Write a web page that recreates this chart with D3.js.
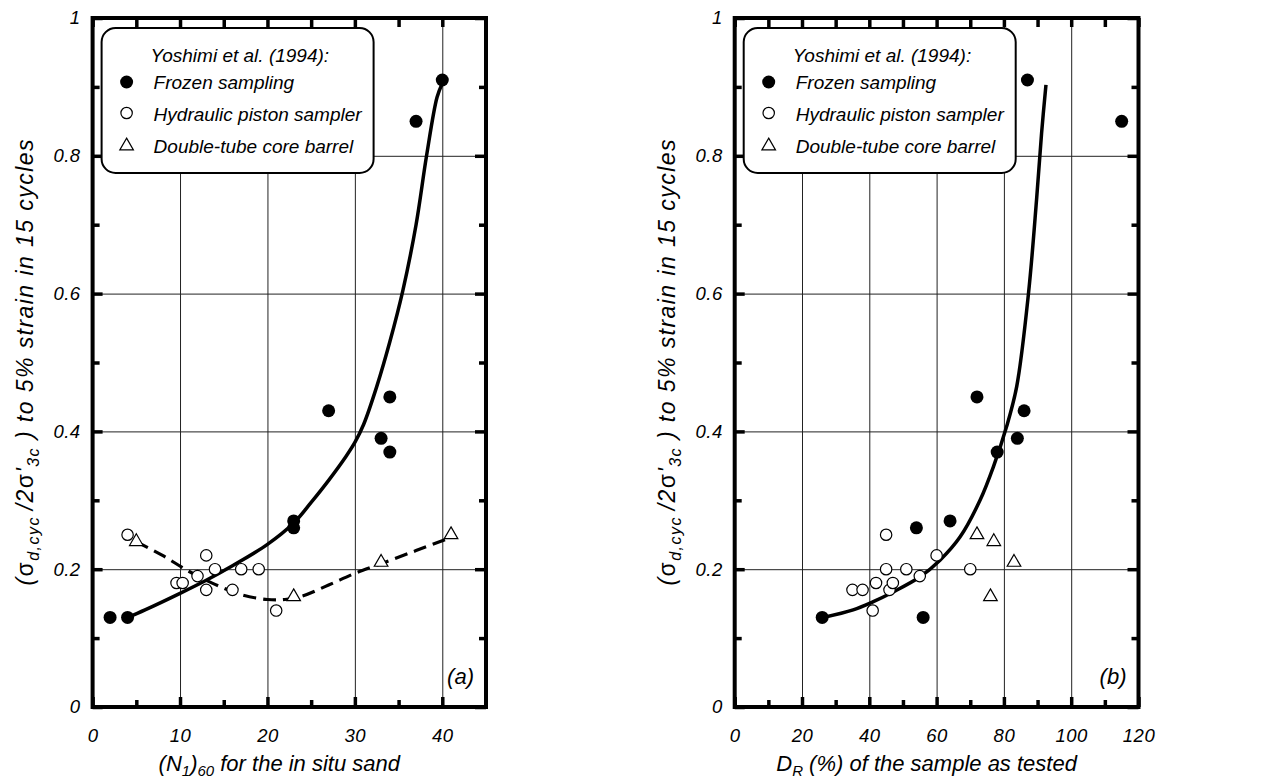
<!DOCTYPE html>
<html>
<head>
<meta charset="utf-8">
<script src="https://cdn.jsdelivr.net/npm/d3@7"></script>
<style>
	body { margin: 0; background: #fff; }
	svg { display: block; font-family: "Liberation Sans", Arial, sans-serif; font-style: italic; }
	.grid line { stroke: #222; stroke-width: 1; }
	.grid .domain { display: none; }
	.ticks line { stroke: #000; stroke-width: 3.5; }
	.ticks .domain { display: none; }
	.ticks text { font-size: 18.5px; fill: #000; font-family: "Liberation Sans", Arial, sans-serif; letter-spacing: 0.5px; }
</style>
</head>
<body>
<svg id="chart" width="1265" height="781"></svg>
<script>
// y axis, shared by both panels
var yTicks = [0, 0.2, 0.4, 0.6, 0.8, 1];
var yMinor = [0.1, 0.3, 0.5, 0.7, 0.9];
var yGrid = [0.2, 0.4, 0.6, 0.8];

// panel (a): (N1)60
var n60Ticks = [0, 10, 20, 30, 40];
var n60Minor = [5, 15, 25, 35];
var n60Grid = [10, 20, 30, 40];
var frozenA = [[2, 0.13], [4, 0.13], [23, 0.27], [23, 0.26], [27, 0.43], [33, 0.39], [34, 0.45], [34, 0.37], [37, 0.85], [40, 0.91]];
var pistonA = [[4, 0.25], [9.6, 0.18], [10.3, 0.18], [12, 0.19], [13, 0.22], [13, 0.17], [14, 0.2], [16, 0.17], [17, 0.2], [19, 0.2], [21, 0.14]];
var barrelA = [[5, 0.24], [23, 0.16], [33, 0.21], [41, 0.25]];
var fitA = [[4, 0.13], [6, 0.141], [10, 0.165], [13, 0.184], [16, 0.205], [20, 0.236], [23, 0.267], [25, 0.297], [27, 0.329], [29, 0.364], [30, 0.384], [31, 0.41], [32.5, 0.465], [34, 0.53], [35.5, 0.605], [37, 0.7], [38.2, 0.8], [39.4, 0.885], [40, 0.905]];
var trendA = [[5, 0.24], [8, 0.22], [11, 0.197], [14, 0.178], [17, 0.163], [20, 0.156], [22, 0.156], [24, 0.161], [27, 0.177], [30, 0.194], [33, 0.208], [37, 0.227], [41, 0.246]];

// panel (b): DR
var drTicks = [0, 20, 40, 60, 80, 100, 120];
var drMinor = [10, 30, 50, 70, 90, 110];
var drGrid = [20, 40, 60, 80, 100];
var frozenB = [[26, 0.13], [54, 0.26], [56, 0.13], [64, 0.27], [72, 0.45], [78, 0.37], [84, 0.39], [86, 0.43], [87, 0.91], [115, 0.85]];
var pistonB = [[35, 0.17], [38, 0.17], [41, 0.14], [42, 0.18], [45, 0.25], [45, 0.2], [46, 0.17], [47, 0.18], [51, 0.2], [55, 0.19], [60, 0.22], [70, 0.2]];
var barrelB = [[72, 0.25], [77, 0.24], [83, 0.21], [76, 0.16]];
var fitB = [[26.3, 0.13], [35.2, 0.141], [41.2, 0.153], [47.1, 0.167], [55.1, 0.189], [61, 0.213], [67, 0.247], [72.9, 0.3], [76.9, 0.349], [80.8, 0.407], [83.8, 0.465], [87.3, 0.6], [89.7, 0.736], [91.2, 0.833], [92.5, 0.903]];

var legendTitle = "Yoshimi et al. (1994):";
var legendNames = ["Frozen sampling", "Hydraulic piston sampler", "Double-tube core barrel"];

var svg = d3.select("#chart");
var plotTop = 18, plotBottom = 707;

function drawPanel(p) {
	var x = d3.scaleLinear().domain(p.domain).range([p.left, p.right]);
	var y = d3.scaleLinear().domain([0, 1]).range([plotBottom, plotTop]);
	var g = svg.append("g");

	// grid lines go first so everything else covers them
	g.append("g").attr("class", "grid").attr("transform", "translate(0," + plotBottom + ")")
		.call(d3.axisBottom(x).tickValues(p.grid).tickSize(plotTop - plotBottom).tickFormat(""));
	g.append("g").attr("class", "grid").attr("transform", "translate(" + p.left + ",0)")
		.call(d3.axisLeft(y).tickValues(yGrid).tickSize(p.left - p.right).tickFormat(""));

	var line = d3.line().x(function(d) {return x(d[0]);}).y(function(d) {return y(d[1]);}).curve(d3.curveCatmullRom.alpha(0.5));
	g.append("path").datum(p.fit).attr("d", line).attr("fill", "none").attr("stroke", "#000").attr("stroke-width", 3.5);
	if(p.trend)
		g.append("path").datum(p.trend).attr("d", line).attr("fill", "none").attr("stroke", "#000").attr("stroke-width", 3.2).attr("stroke-dasharray", "13,7");

	g.selectAll("circle.piston").data(p.piston).enter().append("circle").attr("class", "piston")
		.attr("cx", function(d) {return x(d[0]);}).attr("cy", function(d) {return y(d[1]);})
		.attr("r", 5.7).attr("fill", "#fff").attr("stroke", "#000").attr("stroke-width", 1.2);
	g.selectAll("path.barrel").data(p.barrel).enter().append("path").attr("class", "barrel")
		.attr("d", d3.symbol(d3.symbolTriangle).size(80))
		.attr("transform", function(d) {return "translate(" + x(d[0]) + "," + y(d[1]) + ")";})
		.attr("fill", "#fff").attr("stroke", "#000").attr("stroke-width", 1.2);
	g.selectAll("circle.frozen").data(p.frozen).enter().append("circle").attr("class", "frozen")
		.attr("cx", function(d) {return x(d[0]);}).attr("cy", function(d) {return y(d[1]);})
		.attr("r", 6.5).attr("fill", "#000");

	// inward ticks on all four sides, labels only bottom and left
	g.append("g").attr("class", "ticks").attr("transform", "translate(0," + plotBottom + ")")
		.call(d3.axisBottom(x).tickValues(p.ticks).tickSize(-10).tickPadding(22).tickFormat(d3.format("")));
	g.append("g").attr("class", "ticks").attr("transform", "translate(0," + plotBottom + ")")
		.call(d3.axisBottom(x).tickValues(p.minor).tickSize(-7).tickFormat(""));
	g.append("g").attr("class", "ticks").attr("transform", "translate(0," + plotTop + ")")
		.call(d3.axisTop(x).tickValues(p.ticks.concat(p.minor)).tickSize(-9).tickFormat(""));
	g.append("g").attr("class", "ticks").attr("transform", "translate(" + p.left + ",0)")
		.call(d3.axisLeft(y).tickValues(yTicks).tickSize(-10).tickPadding(12).tickFormat(d3.format("")));
	g.append("g").attr("class", "ticks").attr("transform", "translate(" + p.left + ",0)")
		.call(d3.axisLeft(y).tickValues(yMinor).tickSize(-7).tickFormat(""));
	g.append("g").attr("class", "ticks").attr("transform", "translate(" + p.right + ",0)")
		.call(d3.axisRight(y).tickValues(yTicks).tickSize(-11).tickFormat(""));
	g.append("g").attr("class", "ticks").attr("transform", "translate(" + p.right + ",0)")
		.call(d3.axisRight(y).tickValues(yMinor).tickSize(-7).tickFormat(""));
	g.selectAll(".ticks text").style("font-style", "italic");

	g.append("rect").attr("x", p.left).attr("y", plotTop).attr("width", p.right - p.left).attr("height", plotBottom - plotTop)
		.attr("fill", "none").attr("stroke", "#000").attr("stroke-width", 4);

	// legend box
	var lx = p.left + 9, ly = 28;
	var lg = g.append("g").attr("transform", "translate(" + lx + "," + ly + ")").style("font-size", "19px");
	lg.append("rect").attr("width", 272).attr("height", 145).attr("rx", 14).attr("fill", "#fff").attr("stroke", "#000").attr("stroke-width", 2);
	lg.append("text").attr("x", 49).attr("y", 34).text(legendTitle);
	lg.selectAll("text.item").data(legendNames).enter().append("text").attr("class", "item")
		.attr("x", 52).attr("y", function(d, i) {return 61 + i * 32;}).text(function(d) {return d;});
	lg.append("circle").attr("cx", 25).attr("cy", 54).attr("r", 6.5).attr("fill", "#000");
	lg.append("circle").attr("cx", 25).attr("cy", 85).attr("r", 5.7).attr("fill", "#fff").attr("stroke", "#000").attr("stroke-width", 1.2);
	lg.append("path").attr("d", d3.symbol(d3.symbolTriangle).size(80)).attr("transform", "translate(25,118)")
		.attr("fill", "#fff").attr("stroke", "#000").attr("stroke-width", 1.2);

	g.append("text").attr("x", p.right - 12).attr("y", 684).attr("text-anchor", "end").style("font-size", "22px").text(p.tag);

	// y title
	var yt = g.append("text").attr("transform", "translate(" + (p.left - 59.5) + "," + ((plotTop + plotBottom) / 2) + ") rotate(-90)")
		.attr("text-anchor", "middle").style("font-size", "23px").attr("textLength", 446).attr("lengthAdjust", "spacing");
	yt.append("tspan").text("(");
	yt.append("tspan").style("font-style", "normal").text("σ");
	yt.append("tspan").attr("dy", 6).style("font-size", "16px").text("d,cyc ");
	yt.append("tspan").attr("dy", -6).text("/2");
	yt.append("tspan").style("font-style", "normal").text("σ");
	yt.append("tspan").text("'");
	yt.append("tspan").attr("dy", 6).style("font-size", "16px").text("3c");
	yt.append("tspan").attr("dy", -6).text(" ) to 5% strain in 15 cycles");

	// x title
	var xt = g.append("text").attr("x", (p.left + p.right) / 2 - 10).attr("y", 771).attr("text-anchor", "middle").style("font-size", "22px");
	p.xtitle.forEach(function(part) {
		xt.append("tspan").attr("dy", part[1]).style("font-size", part[1] > 0 ? "15px" : null).text(part[0]);
	});
}

drawPanel({left: 92.6, right: 486, domain: [0, 45], ticks: n60Ticks, minor: n60Minor, grid: n60Grid,
	frozen: frozenA, piston: pistonA, barrel: barrelA, fit: fitA, trend: trendA, tag: "(a)",
	xtitle: [["(N", 0], ["1", 5], [")", -5], ["60", 5], [" for the in situ sand", -5]]});
drawPanel({left: 734.7, right: 1138.5, domain: [0, 120], ticks: drTicks, minor: drMinor, grid: drGrid,
	frozen: frozenB, piston: pistonB, barrel: barrelB, fit: fitB, tag: "(b)",
	xtitle: [["D", 0], ["R", 5], [" (%) of the sample as tested", -5]]});
</script>
</body>
</html>
